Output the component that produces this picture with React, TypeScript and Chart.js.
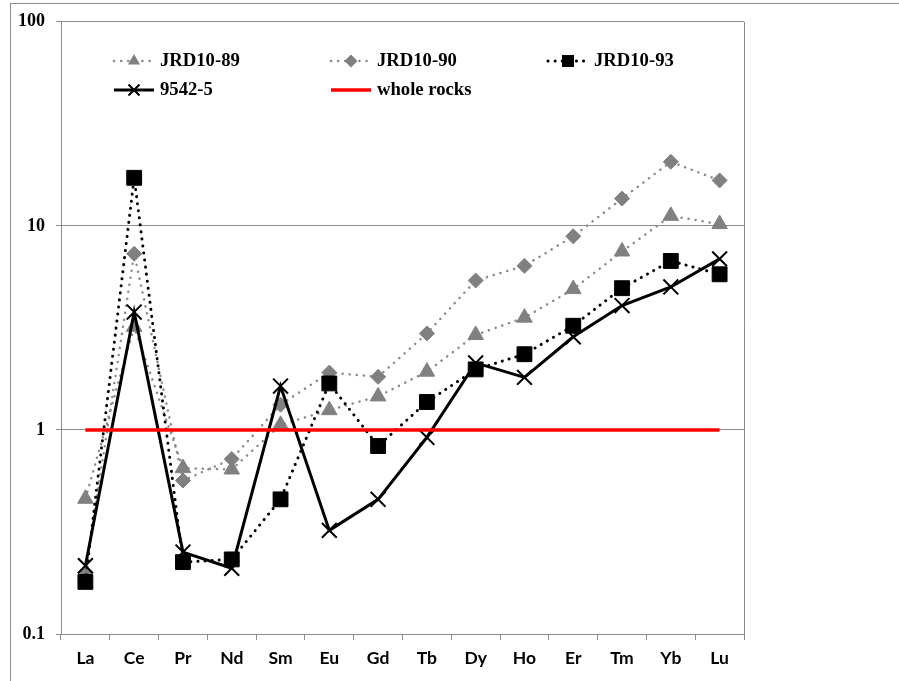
import React, { useEffect, useRef } from 'react';
import { Chart, registerables } from 'chart.js';

Chart.register(...registerables);

const categories = ['La', 'Ce', 'Pr', 'Nd', 'Sm', 'Eu', 'Gd', 'Tb', 'Dy', 'Ho', 'Er', 'Tm', 'Yb', 'Lu'];
const jrd1089 = [0.46, 3.2, 0.65, 0.64, 1.06, 1.25, 1.46, 1.93, 2.92, 3.55, 4.9, 7.49, 11.2, 10.2];
const jrd1090 = [0.2, 7.3, 0.565, 0.72, 1.33, 1.91, 1.82, 2.97, 5.4, 6.37, 8.89, 13.6, 20.6, 16.7];
const jrd1093 = [0.18, 17.2, 0.225, 0.232, 0.457, 1.69, 0.834, 1.37, 1.98, 2.35, 3.24, 4.95, 6.73, 5.79];
const s95425 = [0.216, 3.78, 0.252, 0.21, 1.64, 0.322, 0.457, 0.919, 2.13, 1.81, 2.86, 4.07, 5.02, 6.89];
const wholeRocks = [1, 1, 1, 1, 1, 1, 1, 1, 1, 1, 1, 1, 1, 1];
const yTicks = [0.1, 1, 10, 100];
const seriesNames = ['JRD10-89', 'JRD10-90', 'JRD10-93', '9542-5', 'whole rocks'];

const GRID = '#8c8c8c';
const GRAY_LINE = '#8a8a8a';
const GRAY_MARK = '#808080';
const DOT = [0.1, 7];

function drawMarker(ctx: CanvasRenderingContext2D, kind: string, x: number, y: number, r: number, color: string) {
  ctx.save();
  ctx.setLineDash([]);
  ctx.fillStyle = color;
  ctx.strokeStyle = color;
  ctx.beginPath();
  if (kind === 'triangle') {
    ctx.moveTo(x, y - r);
    ctx.lineTo(x + r * 0.866, y + r * 0.5);
    ctx.lineTo(x - r * 0.866, y + r * 0.5);
    ctx.closePath();
    ctx.fill();
  } else if (kind === 'diamond') {
    ctx.moveTo(x, y - r);
    ctx.lineTo(x + r, y);
    ctx.lineTo(x, y + r);
    ctx.lineTo(x - r, y);
    ctx.closePath();
    ctx.fill();
  } else if (kind === 'square') {
    ctx.rect(x - r, y - r, 2 * r, 2 * r);
    ctx.fill();
  } else if (kind === 'x') {
    ctx.lineWidth = 2;
    ctx.moveTo(x - r, y - r);
    ctx.lineTo(x + r, y + r);
    ctx.moveTo(x - r, y + r);
    ctx.lineTo(x + r, y - r);
    ctx.stroke();
  }
  ctx.restore();
}

const legendItems = [
  { name: seriesNames[0], col: 0, row: 0, color: GRAY_LINE, mcolor: GRAY_MARK, dash: DOT, width: 2.5, marker: 'triangle', r: 7 },
  { name: seriesNames[1], col: 1, row: 0, color: GRAY_LINE, mcolor: GRAY_MARK, dash: DOT, width: 2.5, marker: 'diamond', r: 6.5 },
  { name: seriesNames[2], col: 2, row: 0, color: '#000', mcolor: '#000', dash: DOT, width: 3, marker: 'square', r: 6 },
  { name: seriesNames[3], col: 0, row: 1, color: '#000', mcolor: '#000', dash: [], width: 3, marker: 'x', r: 5.5 },
  { name: seriesNames[4], col: 1, row: 1, color: '#ff0000', mcolor: '#ff0000', dash: [], width: 3.5, marker: '', r: 0 },
];

const customPlugin = {
  id: 'customDecor',
  beforeDatasetsDraw(chart: any) {
    const { ctx, chartArea } = chart;
    ctx.save();
    ctx.strokeStyle = GRID;
    ctx.lineWidth = 1;
    ctx.beginPath();
    const xr = Math.round(chartArea.right) + 0.5;
    ctx.moveTo(xr, chartArea.top);
    ctx.lineTo(xr, chartArea.bottom);
    ctx.stroke();
    ctx.restore();
  },
  afterDraw(chart: any) {
    const { ctx } = chart;
    const colX = [113, 330, 547];
    const rowY = [61, 90];
    ctx.save();
    for (const it of legendItems) {
      const x0 = colX[it.col];
      const y = rowY[it.row];
      ctx.save();
      ctx.strokeStyle = it.color;
      ctx.lineWidth = it.width;
      ctx.lineCap = it.dash.length ? 'round' : 'butt';
      ctx.setLineDash(it.dash);
      ctx.beginPath();
      ctx.moveTo(x0 + 1, y);
      ctx.lineTo(x0 + 41, y);
      ctx.stroke();
      ctx.restore();
      if (it.marker) drawMarker(ctx, it.marker, x0 + 21, y, it.r, it.mcolor);
      ctx.fillStyle = '#000';
      ctx.font = 'bold 18.67px "Liberation Serif", "Times New Roman", serif';
      ctx.textBaseline = 'middle';
      ctx.textAlign = 'left';
      ctx.fillText(it.name, x0 + 47, y);
    }
    ctx.restore();
  },
};

export default function App() {
  const canvasRef = useRef<HTMLCanvasElement | null>(null);

  useEffect(() => {
    let chart: Chart | null = null;
    let cancelled = false;
    const create = () => {
      if (cancelled || !canvasRef.current) return;
      chart = new Chart(canvasRef.current, {
        type: 'line',
        data: {
          labels: categories,
          datasets: [
            {
              label: seriesNames[0],
              data: jrd1089,
              order: 4,
              borderColor: GRAY_LINE,
              borderWidth: 2.5,
              borderDash: DOT,
              borderCapStyle: 'round',
              pointStyle: 'triangle',
              pointRadius: 9,
              pointBackgroundColor: GRAY_MARK,
              pointBorderColor: GRAY_MARK,
              pointBorderWidth: 1,
            },
            {
              label: seriesNames[1],
              data: jrd1090,
              order: 3,
              borderColor: GRAY_LINE,
              borderWidth: 2.5,
              borderDash: DOT,
              borderCapStyle: 'round',
              pointStyle: 'rectRot',
              pointRadius: 7.5,
              pointBackgroundColor: GRAY_MARK,
              pointBorderColor: GRAY_MARK,
              pointBorderWidth: 1,
            },
            {
              label: seriesNames[2],
              data: jrd1093,
              order: 2,
              borderColor: '#000',
              borderWidth: 3,
              borderDash: DOT,
              borderCapStyle: 'round',
              pointStyle: 'rect',
              pointRadius: 10.5,
              pointBackgroundColor: '#000',
              pointBorderColor: '#000',
              pointBorderWidth: 1,
            },
            {
              label: seriesNames[3],
              data: s95425,
              order: 1,
              borderColor: '#000',
              borderWidth: 3,
              pointStyle: 'crossRot',
              pointRadius: 10.5,
              pointBackgroundColor: '#000',
              pointBorderColor: '#000',
              pointBorderWidth: 2,
            },
            {
              label: seriesNames[4],
              data: wholeRocks,
              order: 0,
              borderColor: '#ff0000',
              borderWidth: 3.5,
              pointRadius: 0,
            },
          ],
        },
        options: {
          animation: false,
          responsive: false,
          events: [],
          layout: { padding: { left: 0, right: 155, top: 19, bottom: 0 } },
          plugins: {
            legend: { display: false },
            tooltip: { enabled: false },
          },
          scales: {
            x: {
              type: 'category',
              offset: true,
              grid: { drawOnChartArea: false, tickLength: 6, color: GRID, offset: true },
              border: { color: GRID, width: 1 },
              ticks: {
                color: '#000',
                font: { family: 'Lato, "Open Sans", sans-serif', weight: 'bold', size: 17.5 },
                padding: 8,
                maxRotation: 0,
                autoSkip: false,
              },
              afterFit: (s: any) => {
                s.height = 47;
              },
            },
            y: {
              type: 'logarithmic',
              min: 0.1,
              max: 100,
              afterBuildTicks: (s: any) => {
                s.ticks = yTicks.map((v) => ({ value: v }));
              },
              grid: { color: GRID, tickLength: 5 },
              border: { color: GRID, width: 1 },
              ticks: {
                color: '#000',
                font: { family: '"Liberation Serif", "Times New Roman", serif', weight: 'bold', size: 18 },
                padding: 11,
                callback: (v: any) => String(v),
              },
              afterFit: (s: any) => {
                s.width = 61;
              },
            },
          },
        },
        plugins: [customPlugin],
      } as any);
    };
    const fontsApi = (document as any).fonts;
    if (fontsApi && fontsApi.load) {
      Promise.all([
        fontsApi.load('bold 18px "Liberation Serif"'),
        fontsApi.load('bold 17px Lato'),
      ]).catch(() => {}).finally(create);
    } else {
      create();
    }
    return () => {
      cancelled = true;
      if (chart) chart.destroy();
    };
  }, []);

  return (
    <div style={{ position: 'absolute', left: 0, top: 0, width: 899, height: 681, background: '#fff', overflow: 'hidden' }}>
      <div
        style={{
          position: 'absolute',
          left: 10,
          top: 3,
          width: 1000,
          height: 1000,
          borderLeft: '1px solid #8c8c8c',
          borderTop: '1px solid #8c8c8c',
        }}
      />
      <canvas ref={canvasRef} width={899} height={681} style={{ position: 'absolute', left: 0, top: 0 }} />
    </div>
  );
}
